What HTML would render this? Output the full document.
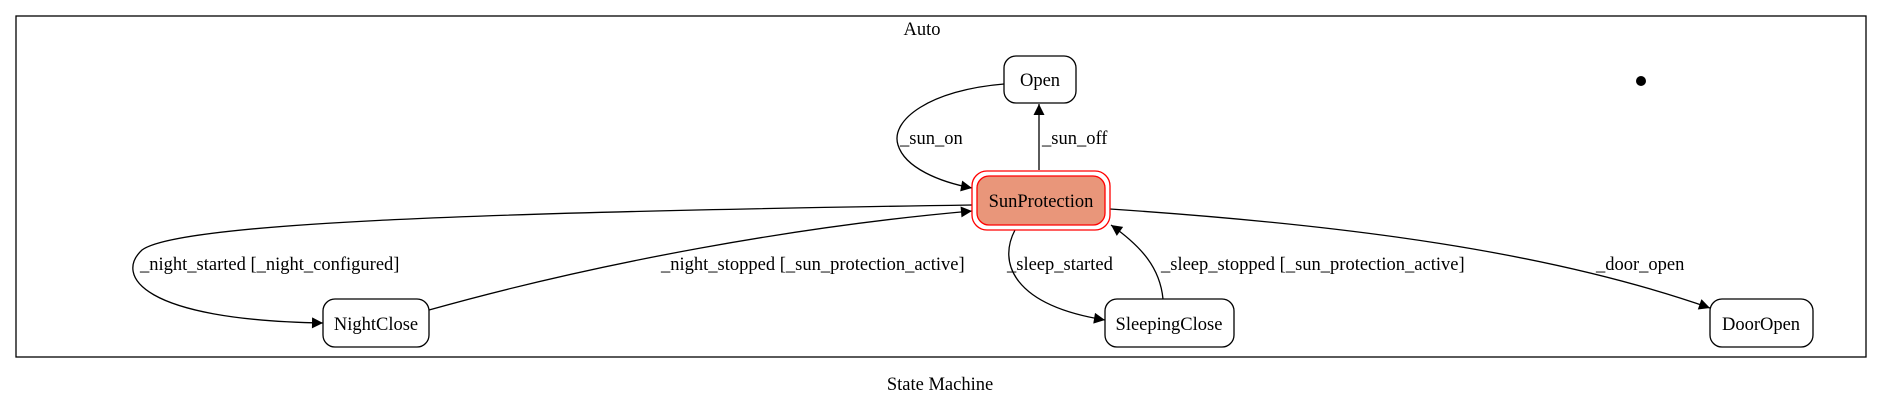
<!DOCTYPE html>
<html><head><meta charset="utf-8"><style>
html,body{margin:0;padding:0;background:#fff;}
svg{display:block;font-family:"Liberation Serif",serif;}
</style></head><body>
<svg width="1884" height="405" viewBox="0 0 1884 405" xmlns="http://www.w3.org/2000/svg">
<defs>
<marker id="a" viewBox="0 0 10 10" refX="10" refY="5" markerWidth="14" markerHeight="11" markerUnits="userSpaceOnUse" orient="auto"><path d="M0,0 L10,5 L0,10 z" fill="#000"/></marker>
</defs>
<rect x="16" y="16" width="1850" height="341" fill="none" stroke="#000" stroke-width="1.3"/>
<g font-size="18.5" fill="#000">
<text x="922" y="35" text-anchor="middle">Auto</text>
<text x="940" y="390" text-anchor="middle">State Machine</text>
</g>
<g fill="none" stroke="#000" stroke-width="1.3">
<path d="M1004,84 C930,90 890,120 898,145 C905,168 940,182 972,188" marker-end="url(#a)"/>
<path d="M1039,170 L1039,104" marker-end="url(#a)"/>
<path d="M972,205 C500,212 180,222 142,250 C115,275 140,320 323,323" marker-end="url(#a)"/>
<path d="M429,310 C600,262 800,226 972,211" marker-end="url(#a)"/>
<path d="M1015,230 C998,262 1012,305 1105,320" marker-end="url(#a)"/>
<path d="M1163,299 C1160,268 1142,247 1111,225" marker-end="url(#a)"/>
<path d="M1110,209 C1350,225 1550,252 1710,308" marker-end="url(#a)"/>
</g>
<g fill="#fff" stroke="#000" stroke-width="1.3">
<rect x="1004" y="56" width="72" height="47" rx="12"/>
<rect x="323" y="299" width="106" height="48" rx="12"/>
<rect x="1105" y="299" width="129" height="48" rx="12"/>
<rect x="1710" y="299" width="103" height="48" rx="12"/>
</g>
<rect x="972" y="171" width="138" height="59" rx="15" fill="#fff" stroke="#f00" stroke-width="1.3"/>
<rect x="977" y="176" width="128" height="49" rx="12" fill="#e9967a" stroke="#f00" stroke-width="1.3"/>
<circle cx="1641" cy="81" r="5" fill="#000"/>
<g font-size="18.5" fill="#000" text-anchor="middle">
<text x="1040" y="86">Open</text>
<text x="1041" y="207">SunProtection</text>
<text x="376" y="330">NightClose</text>
<text x="1169" y="330">SleepingClose</text>
<text x="1761" y="330">DoorOpen</text>
</g>
<g font-size="18.5" fill="#000">
<text x="900" y="144">_sun_on</text>
<text x="1042" y="144">_sun_off</text>
<text x="140" y="270">_night_started [_night_configured]</text>
<text x="661" y="270">_night_stopped [_sun_protection_active]</text>
<text x="1007" y="270">_sleep_started</text>
<text x="1161" y="270">_sleep_stopped [_sun_protection_active]</text>
<text x="1596" y="270">_door_open</text>
</g>
</svg>
</body></html>
